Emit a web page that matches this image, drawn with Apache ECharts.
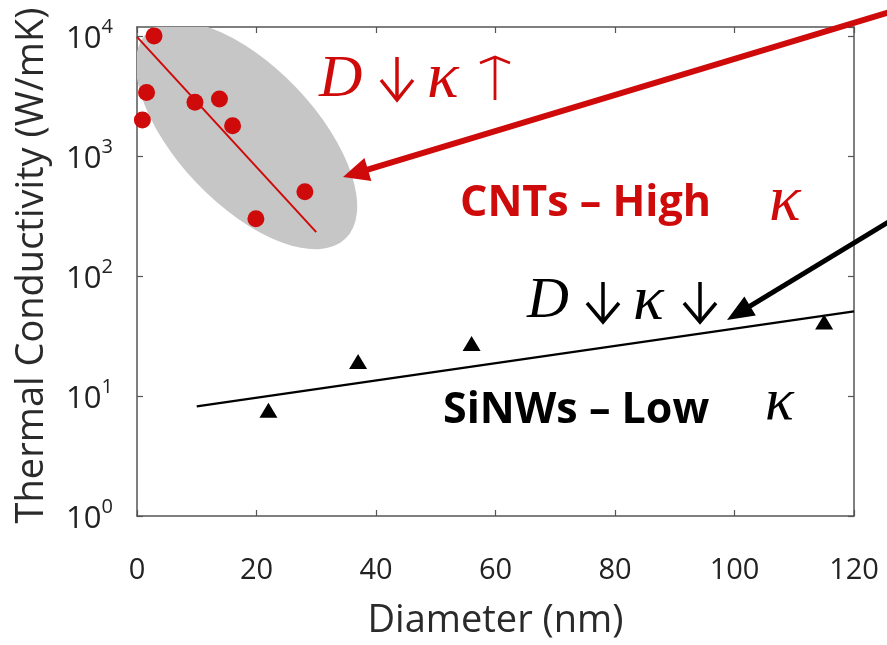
<!DOCTYPE html>
<html><head><meta charset="utf-8">
<script src="https://cdn.jsdelivr.net/npm/echarts@6/dist/echarts.min.js"></script>
<style>html,body{margin:0;padding:0;background:#fff}#c{width:887px;height:645px}</style>
</head><body><div id="c"></div>
<script>
// ---- data ----
const xTickValues = [0, 20, 40, 60, 80, 100, 120];
const yTickExponents = [0, 1, 2, 3, 4];
const cntDiameter = [0.9, 1.6, 2.85, 9.7, 13.8, 16.0, 19.9, 28.1];
const cntKappa = [1995, 3380, 10000, 2795, 2977, 1782, 299, 502];
const cntFitDiameter = [0, 30];
const cntFitKappa = [9800, 232];
const sinwDiameter = [22, 37, 56, 115];
const sinwKappa = [7.6, 19.4, 27.3, 41.4];
const sinwFitDiameter = [10, 120];
const sinwFitKappa = [8.2, 50.7];
const cntRegionCenter = [18.33, 1483];

const SANS = '"Open Sans", "DejaVu Sans", sans-serif';
const SERIF = '"Liberation Serif", "DejaVu Serif", serif';
const RED = '#cf0a0a';
const AXIS = '#555';

const zip = (a, b) => a.map((v, i) => [v, b[i]]);

function arrow(from, to, width, headLen, headHalf, color) {
  const dx = to[0] - from[0], dy = to[1] - from[1];
  const L = Math.hypot(dx, dy), ux = dx / L, uy = dy / L;
  const bx = to[0] - ux * headLen, by = to[1] - uy * headLen;
  return [
    { type: 'line', z: 50, shape: { x1: from[0], y1: from[1], x2: bx + ux * 2, y2: by + uy * 2 },
      style: { stroke: color, lineWidth: width } },
    { type: 'polygon', z: 50, shape: { points: [to, [bx - uy * headHalf, by + ux * headHalf], [bx + uy * headHalf, by - ux * headHalf]] },
      style: { fill: color } }
  ];
}
// glyph-like vertical arrow (stem + open chevron), cx centre, yTop/yBot ends, dir 1 = down, -1 = up
function glyphArrow(cx, yTop, yBot, dir, halfW, headH, w, color) {
  const tip = dir > 0 ? yBot : yTop;
  const armY = tip - dir * headH;
  return [
    { type: 'line', z: 60, shape: { x1: cx, y1: yTop + (dir > 0 ? 0 : 1), x2: cx, y2: yBot - (dir > 0 ? 1 : 0) },
      style: { stroke: color, lineWidth: w } },
    { type: 'polyline', z: 60, shape: { points: [[cx - halfW, armY], [cx, tip], [cx + halfW, armY]] },
      style: { stroke: color, lineWidth: w, lineJoin: 'miter', fill: null } }
  ];
}
function txt(x, y, text, font, color, align) {
  return { type: 'text', z: 60, x: x, y: y, style: { text: text, font: font, fill: color, align: align || 'left', verticalAlign: 'middle' } };
}

const yMax = 11858;
const chart = echarts.init(document.getElementById('c'), null, { renderer: 'canvas' });
const lineCommon = { show: true, onZero: false, lineStyle: { color: AXIS, width: 1.5 } };
const tickCommon = { show: true, inside: true, length: 6, lineStyle: { color: AXIS, width: 1.2 } };
const yCommon = {
  type: 'log', logBase: 10, min: 1, max: yMax,
  axisLine: lineCommon, axisTick: tickCommon, splitLine: { show: false }
};
const xCommon = {
  type: 'value', min: 0, max: 120, interval: 20,
  axisLine: lineCommon, axisTick: tickCommon, splitLine: { show: false }
};

chart.setOption({
  animation: false,
  backgroundColor: '#fff',
  grid: { left: 137, right: 33, top: 27, bottom: 125, containLabel: false },
  xAxis: [
    Object.assign({}, xCommon, {
      position: 'bottom',
      name: 'Diameter (nm)', nameLocation: 'middle', nameGap: 86,
      nameTextStyle: { fontFamily: SANS, fontSize: 38, color: '#2a2a2a' },
      axisLabel: { margin: 40, fontFamily: SANS, fontSize: 29, color: '#222',
        formatter: v => xTickValues.indexOf(v) >= 0 ? String(v) : '' }
    }),
    Object.assign({}, xCommon, { position: 'top', axisLabel: { show: false } })
  ],
  yAxis: [
    Object.assign({}, yCommon, {
      position: 'left',
      name: 'Thermal Conductivity (W/mK)', nameLocation: 'middle', nameGap: 86,
      nameTextStyle: { fontFamily: SANS, fontSize: 38, color: '#2a2a2a', padding: [0, 0, 0, 12] },
      axisLabel: { margin: 24, showMaxLabel: false, color: '#222',
        formatter: v => {
          const e = Math.round(Math.log10(v));
          if (Math.abs(Math.log10(v) - e) > 1e-6 || yTickExponents.indexOf(e) < 0) return '';
          return '{b|10}{s|' + e + '}';
        },
        rich: {
          b: { fontFamily: SANS, fontSize: 31, color: '#222', lineHeight: 38, verticalAlign: 'bottom' },
          s: { fontFamily: SANS, fontSize: 20, color: '#222', lineHeight: 38, verticalAlign: 'top' }
        }
      }
    }),
    Object.assign({}, yCommon, { position: 'right', axisLabel: { show: false } })
  ],
  series: [
    {
      type: 'custom', name: 'CNT region', xAxisIndex: 0, yAxisIndex: 0, z: 1, silent: true, clip: true,
      data: [cntRegionCenter],
      renderItem: function (params, api) {
        const c = api.coord([api.value(0), api.value(1)]);
        return { type: 'circle', x: c[0], y: c[1], scaleX: 143, scaleY: 69, rotation: -46.3 * Math.PI / 180,
          shape: { cx: 0, cy: 0, r: 1 }, style: { fill: '#c6c6c6' } };
      }
    },
    {
      type: 'line', name: 'CNT fit', data: zip(cntFitDiameter, cntFitKappa), z: 3,
      symbol: 'none', lineStyle: { color: RED, width: 2 }
    },
    {
      type: 'scatter', name: 'CNTs', data: zip(cntDiameter, cntKappa), z: 4,
      symbol: 'circle', symbolSize: 17, itemStyle: { color: RED, opacity: 1 }
    },
    {
      type: 'line', name: 'SiNW fit', data: zip(sinwFitDiameter, sinwFitKappa), z: 3,
      symbol: 'none', lineStyle: { color: '#000', width: 2.3 }
    },
    {
      type: 'scatter', name: 'SiNWs', data: zip(sinwDiameter, sinwKappa), z: 4,
      symbol: 'triangle', symbolSize: [18, 15], itemStyle: { color: '#000', opacity: 1 }
    }
  ],
  graphic: [].concat(
    arrow([890, 12], [343, 177], 6, 26, 12, RED),
    arrow([890, 221], [727, 320], 5, 27, 11, '#000'),
    glyphArrow(397, 57, 100, 1, 16, 20, 3.5, RED),
    glyphArrow(495, 57, 100, -1, 15, 6, 2.8, RED),
    glyphArrow(603, 282, 322, 1, 16, 19, 3.5, '#000'),
    glyphArrow(700, 282, 322, 1, 16, 19, 3.5, '#000'),
    [
      txt(319, 80, 'D', 'italic 60px ' + SERIF, RED),
      txt(427, 80, '\u03ba', 'italic 66px ' + SERIF, RED),
      txt(460, 204, 'CNTs \u2013 High', 'bold 43px ' + SANS, RED),
      txt(769, 203, '\u03ba', 'italic 66px ' + SERIF, RED),
      txt(527, 302, 'D', 'italic 58px ' + SERIF, '#000'),
      txt(633, 302, '\u03ba', 'italic 64px ' + SERIF, '#000'),
      txt(443, 411, 'SiNWs \u2013 Low', 'bold 43px ' + SANS, '#000'),
      txt(765, 403, '\u03ba', 'italic 60px ' + SERIF, '#000')
    ]
  )
});
</script>
</body></html>
